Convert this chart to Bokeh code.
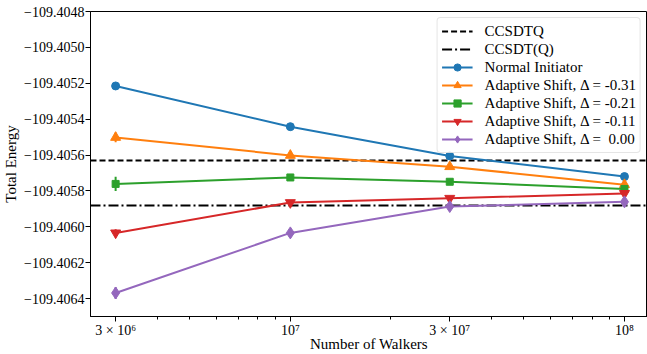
from bokeh.plotting import figure
from bokeh.models import (FixedTicker, Range1d, Legend, LegendItem, ColumnDataSource,
                          CustomJSTickFormatter)
from bokeh.embed import file_html
from bokeh.resources import INLINE

# ---- data ----
walkers = [3e6, 1e7, 3e7, 1e8]
ccsdtq = -109.405633
ccsdt_q = -109.405883

normal_init = [-109.405215, -109.405442, -109.405605, -109.405720]
normal_err = [0.000008, 0.000006, 0.000005, 0.000005]
shift_031 = [-109.405502, -109.405602, -109.405665, -109.405765]
shift_031_err = [0.000027, 0.000010, 0.000007, 0.000012]
shift_021 = [-109.405761, -109.405725, -109.405749, -109.405789]
shift_021_err = [0.000040, 0.000008, 0.000007, 0.000008]
shift_011 = [-109.406034, -109.405865, -109.405841, -109.405814]
shift_011_err = [0.000020, 0.000012, 0.000006, 0.000008]
shift_000 = [-109.406369, -109.406034, -109.405887, -109.405861]
shift_000_err = [0.000033, 0.000010, 0.000006, 0.000008]

series_labels = ["Normal Initiator",
                 "Adaptive Shift, \u0394 = -0.31",
                 "Adaptive Shift, \u0394 = -0.21",
                 "Adaptive Shift, \u0394 = -0.11",
                 "Adaptive Shift, \u0394 =  0.00"]
series_values = [normal_init, shift_031, shift_021, shift_011, shift_000]
series_errors = [normal_err, shift_031_err, shift_021_err, shift_011_err, shift_000_err]
series_colors = ["#1f77b4", "#ff7f0e", "#2ca02c", "#d62728", "#9467bd"]
series_markers = ["circle", "triangle", "square", "inverted_triangle", "diamond"]
series_sizes = [8, 10, 7, 10, 12]

x_ticks = [3e6, 1e7, 3e7, 1e8]
x_tick_labels = ["3 \u00d7 10\u2076", "10\u2077", "3 \u00d7 10\u2077", "10\u2078"]
x_minor_ticks = [4e6, 5e6, 6e6, 7e6, 8e6, 9e6, 2e7, 4e7, 5e7, 6e7, 7e7, 8e7, 9e7]
y_ticks = [-109.4048, -109.4050, -109.4052, -109.4054, -109.4056,
           -109.4058, -109.4060, -109.4062, -109.4064]
y_tick_labels = ["\u2212109.4048", "\u2212109.4050", "\u2212109.4052", "\u2212109.4054",
                 "\u2212109.4056", "\u2212109.4058", "\u2212109.4060", "\u2212109.4062",
                 "\u2212109.4064"]

FONT = "Liberation Serif"

p = figure(width=647, height=354, x_axis_type="log",
           x_range=Range1d(2.523e6, 1.172e8),
           y_range=Range1d(-109.4065, -109.4048),
           output_backend="svg", toolbar_location=None,
           min_border_left=0, min_border_right=0, min_border_top=11, min_border_bottom=0,
           background_fill_color="white", border_fill_color="white")

p.xgrid.visible = False
p.ygrid.visible = False
p.outline_line_color = "black"
p.outline_line_width = 1
p.outline_line_alpha = 1

label_code = """
const i = tick_vals.findIndex((t) => Math.abs(t - tick) <= 1e-9 * Math.abs(t));
return i >= 0 ? tick_text[i] : String(tick);
"""
p.xaxis.ticker = FixedTicker(ticks=x_ticks, minor_ticks=x_minor_ticks)
p.xaxis.formatter = CustomJSTickFormatter(args=dict(tick_vals=x_ticks, tick_text=x_tick_labels),
                                          code=label_code)
p.yaxis.ticker = FixedTicker(ticks=y_ticks, minor_ticks=[])
p.yaxis.formatter = CustomJSTickFormatter(args=dict(tick_vals=y_ticks, tick_text=y_tick_labels),
                                          code=label_code)

for ax in (p.xaxis[0], p.yaxis[0]):
    ax.axis_line_color = "black"
    ax.axis_line_width = 1
    ax.major_tick_line_color = "black"
    ax.minor_tick_line_color = "black"
    ax.major_tick_out = 5
    ax.major_tick_in = 0
    ax.minor_tick_out = 3
    ax.minor_tick_in = 0
    ax.major_label_text_font = FONT
    ax.major_label_text_font_size = "14px"
    ax.major_label_text_font_style = "normal"
    ax.major_label_text_color = "black"
    ax.axis_label_text_font = FONT
    ax.axis_label_text_font_size = "15px"
    ax.axis_label_text_font_style = "normal"
    ax.axis_label_text_color = "black"

p.xaxis.axis_label = "Number of Walkers"
p.yaxis.axis_label = "Total Energy"
p.xaxis.major_label_standoff = 1
p.xaxis.axis_label_standoff = -5
p.yaxis.major_label_standoff = 1
p.yaxis.axis_label_standoff = 2

items = []
r_tq = p.hspan(y=[ccsdtq], line_color="black", line_width=2, line_dash="6 3")
r_tq2 = p.hspan(y=[ccsdt_q], line_color="black", line_width=2, line_dash="10 3 2 3")
items.append(LegendItem(label="CCSDTQ", renderers=[r_tq]))
items.append(LegendItem(label="CCSDT(Q)", renderers=[r_tq2]))

for lab, vals, errs, col, mk, sz in zip(series_labels, series_values, series_errors,
                                        series_colors, series_markers, series_sizes):
    src = ColumnDataSource(dict(
        x=walkers, y=vals,
        lo=[v - e for v, e in zip(vals, errs)],
        hi=[v + e for v, e in zip(vals, errs)]))
    rl = p.line("x", "y", source=src, line_color=col, line_width=2)
    p.segment(x0="x", x1="x", y0="lo", y1="hi", source=src, line_color=col, line_width=2)
    rm = p.scatter("x", "y", source=src, marker=mk, size=sz, fill_color=col,
                   line_color=col, line_width=1)
    items.append(LegendItem(label=lab, renderers=[rl, rm]))

legend = Legend(items=items, location="top_right")
legend.label_text_font = FONT
legend.label_text_font_size = "15px"
legend.label_text_color = "black"
legend.border_line_color = "#cccccc"
legend.border_line_width = 1
legend.background_fill_color = "white"
legend.background_fill_alpha = 0.8
legend.glyph_width = 31
legend.glyph_height = 18
legend.label_height = 18
legend.spacing = 0
legend.padding = 4
legend.label_standoff = 12
legend.margin = 6
if "border_radius" in Legend.properties():
    legend.border_radius = 4
p.add_layout(legend)

open("out.html", "w").write(file_html(p, INLINE))
